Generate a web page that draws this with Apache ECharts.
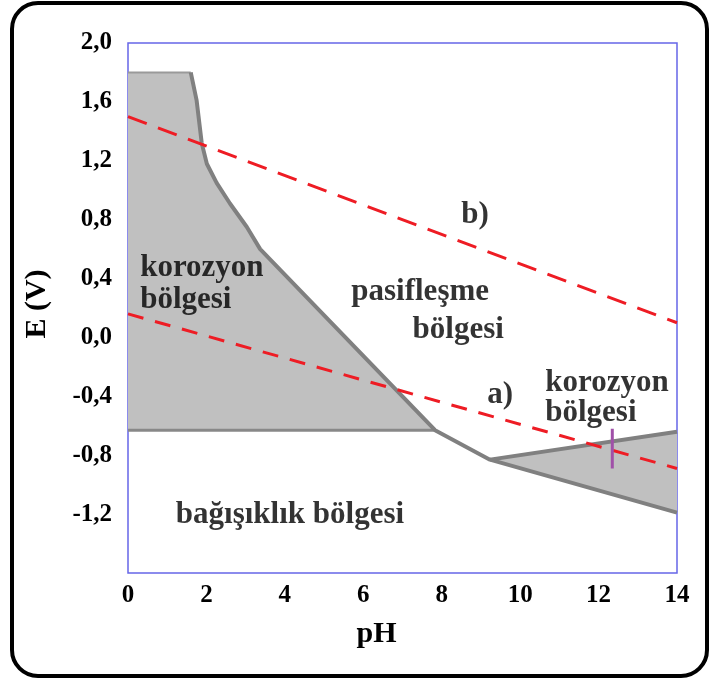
<!DOCTYPE html>
<html lang="tr">
<head>
    <meta charset="UTF-8">
    <title>Pourbaix</title>
    <script type="text/javascript" src="https://cdn.jsdelivr.net/npm/echarts@6/dist/echarts.min.js"></script>
    <style>
        html, body { margin: 0; padding: 0; background: #fff; }
        #main { width: 710px; height: 679px; }
    </style>
</head>
<body>
<div id="main"></div>
<script type="text/javascript">
    // sol korozyon bölgesi (gri alan) sınırı
    var leftZonePH = [0, 1.6, 1.75, 1.88, 2.01, 2.26, 2.6, 3.03, 3.37, 7.83, 0];
    var leftZoneE  = [1.8, 1.8, 1.61, 1.32, 1.18, 1.05, 0.91, 0.75, 0.6, -0.63, -0.63];
    // sağ korozyon bölgesi (üçgen)
    var rightZonePH = [9.23, 14, 14];
    var rightZoneE  = [-0.83, -0.64, -1.19];
    // kalın gri sınır çizgisi
    var borderPH = [1.6, 1.75, 1.88, 2.01, 2.26, 2.6, 3.03, 3.37, 7.83, 9.23, 14];
    var borderE  = [1.8, 1.61, 1.32, 1.18, 1.05, 0.91, 0.75, 0.6, -0.63, -0.83, -1.19];
    // kırmızı kesikli çizgiler a) ve b)
    var lineA_PH = [0, 14];
    var lineA_E  = [0.16, -0.89];
    var lineB_PH = [0, 14];
    var lineB_E  = [1.5, 0.1];
    // mor işaret
    var markPH = [12.35, 12.35];
    var markE  = [-0.62, -0.89];
    // yazılar
    var labelText = ['korozyon\nbölgesi', 'pasifleşme', 'bölgesi', 'b)', 'a)', 'korozyon\nbölgesi', 'bağışıklık bölgesi'];
    var labelPH   = [0.31, 7.45, 8.42, 8.85, 9.49, 10.64, 4.13];
    var labelE    = [0.363, 0.31, 0.05, 0.83, -0.39, -0.41, -1.207];
    var labelAlign = ['left', 'center', 'center', 'center', 'center', 'left', 'center'];
    var labelLineHeight = [32, 32, 32, 32, 32, 30, 32];

    function zip(xs, ys) {
        return xs.map(function (x, i) { return [x, ys[i]]; });
    }

    function polygonSeries(xs, ys) {
        return {
            type: 'custom',
            silent: true,
            z: 1,
            data: zip(xs, ys),
            renderItem: function (params, api) {
                if (params.dataIndex !== 0) return;
                var pts = xs.map(function (x, i) { return api.coord([x, ys[i]]); });
                return { type: 'polygon', shape: { points: pts }, style: { fill: '#c0c0c0' } };
            }
        };
    }

    function lineSeries(xs, ys, color, width, type, z) {
        return {
            type: 'line',
            data: zip(xs, ys),
            symbol: 'none',
            silent: true,
            z: z || 3,
            lineStyle: { color: color, width: width, type: type || 'solid' }
        };
    }

    var serif = 'Liberation Serif';
    var labelData = labelText.map(function (t, i) {
        return {
            value: [labelPH[i], labelE[i]],
            label: { formatter: t, align: labelAlign[i], lineHeight: labelLineHeight[i] }
        };
    });

    var option = {
        animation: false,
        backgroundColor: '#fff',
        grid: {
            left: 128, right: 33, top: 43, bottom: 106,
            show: true, borderColor: '#6666e8', borderWidth: 1.5
        },
        xAxis: {
            type: 'value', min: 0, max: 14, interval: 2,
            name: 'pH', nameLocation: 'middle', nameGap: 46,
            nameTextStyle: { fontFamily: serif, fontWeight: 'bold', fontSize: 30, color: '#000', padding: [0, 52, 0, 0] },
            axisLine: { show: false }, axisTick: { show: false }, splitLine: { show: false },
            axisLabel: { margin: 10, fontFamily: serif, fontWeight: 'bold', fontSize: 25, color: '#000' }
        },
        yAxis: {
            type: 'value', min: -1.6, max: 2.0, interval: 0.4,
            name: 'E (V)', nameLocation: 'middle', nameGap: 76, nameRotate: 90,
            nameTextStyle: { fontFamily: serif, fontWeight: 'bold', fontSize: 30, color: '#000', padding: [0, 0, 0, 8] },
            axisLine: { show: false }, axisTick: { show: false }, splitLine: { show: false },
            axisLabel: {
                margin: 16, fontFamily: serif, fontWeight: 'bold', fontSize: 25, color: '#000',
                padding: [5, 0, 0, 0],
                formatter: function (v) {
                    if (v < -1.5) return '';
                    return v.toFixed(1).replace('.', ',');
                }
            }
        },
        graphic: [{
            type: 'rect',
            shape: { x: 12, y: 3, width: 695, height: 673, r: 26 },
            style: { fill: 'none', stroke: '#000', lineWidth: 4 },
            silent: true
        }],
        series: [
            polygonSeries(leftZonePH, leftZoneE),
            polygonSeries(rightZonePH, rightZoneE),
            lineSeries([0, 1.6], [1.8, 1.8], '#9a9a9a', 2, 'solid', 2),
            lineSeries([0, 7.83], [-0.63, -0.63], '#888', 3, 'solid', 2),
            lineSeries(borderPH, borderE, '#808080', 4, 'solid', 2),
            lineSeries([9.23, 14], [-0.83, -0.64], '#808080', 4, 'solid', 2),
            lineSeries(lineA_PH, lineA_E, '#ee1c24', 3, [16, 12], 4),
            lineSeries(lineB_PH, lineB_E, '#ee1c24', 3, [20, 12], 4),
            lineSeries(markPH, markE, '#a050a8', 3, 'solid', 5),
            {
                type: 'scatter',
                symbolSize: 0,
                silent: true,
                z: 6,
                data: labelData,
                label: {
                    show: true, position: 'inside', verticalAlign: 'middle',
                    fontFamily: serif, fontWeight: 'bold', fontSize: 31, color: '#000'
                }
            }
        ]
    };

    var myChart = echarts.init(document.getElementById('main'));
    myChart.setOption(option);
</script>
</body>
</html>
